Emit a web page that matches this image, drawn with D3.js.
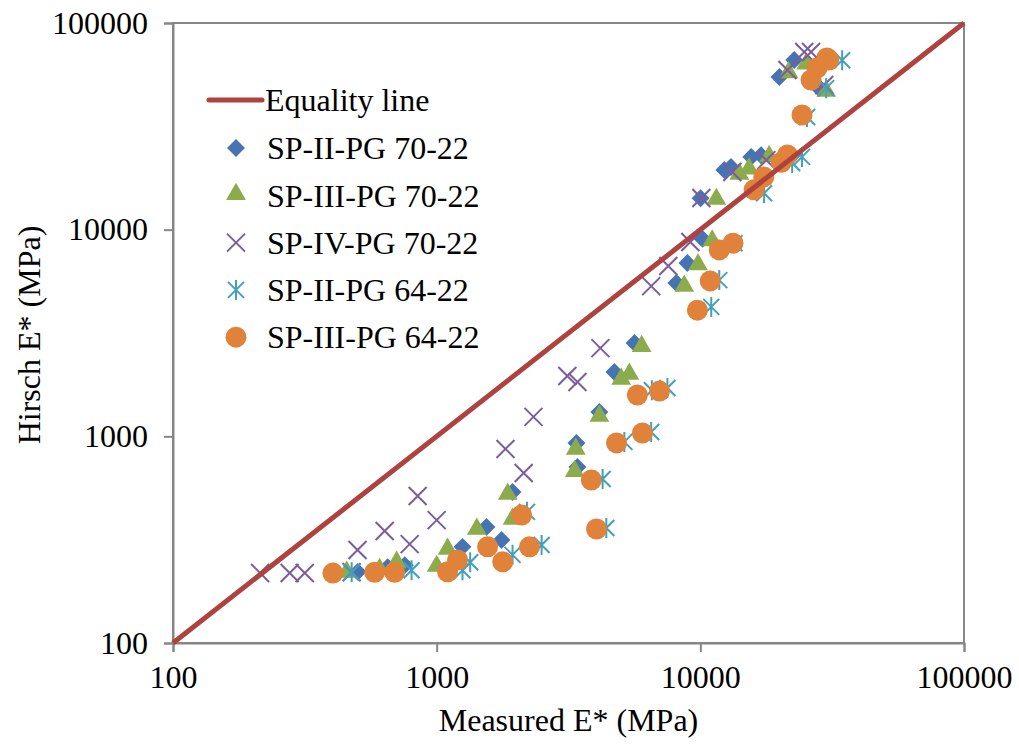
<!DOCTYPE html>
<html>
<head>
<meta charset="utf-8">
<script src="https://cdn.jsdelivr.net/npm/d3@7"></script>
<style>
  html, body { margin: 0; padding: 0; background: #fff; }
  svg { display: block; font-family: "Liberation Serif", "Times New Roman", serif; }
</style>
</head>
<body>
<svg id="chart" width="1019" height="744"></svg>
<script>
// measured E* vs Hirsch E*, both MPa
const spII70 = [
  [502, 221], [652, 233], [757, 238], [1253, 292], [1545, 364], [1762, 315],
  [1940, 538], [3390, 929], [3420, 711], [4140, 1312], [4720, 2048], [5630, 2830],
  [8110, 5520], [8930, 6900], [10200, 9020], [10020, 14200], [12330, 19450],
  [13070, 20100], [15600, 22500], [17000, 22900], [19950, 54800], [22700, 66200],
  [28200, 48400]
];
const spIII70 = [
  [456, 218], [608, 225], [705, 244], [1000, 233], [1100, 282], [1420, 352],
  [1860, 520], [1940, 394], [3370, 859], [3340, 670], [4140, 1240], [5010, 1874],
  [5380, 1980], [5990, 2700], [8690, 5280], [9800, 6700], [11090, 8750],
  [11500, 13900], [14060, 18400], [15300, 19500], [18240, 22400], [21600, 57000],
  [25200, 62700], [30000, 46400]
];
const spIV70 = [
  [214, 218], [277, 218], [316, 218], [476, 220], [501, 282], [635, 348],
  [790, 301], [847, 514], [1000, 393], [1824, 869], [2138, 665], [2329, 1242],
  [3131, 1960], [3420, 1832], [4178, 2673], [6515, 5333], [7560, 6670],
  [9165, 8710], [10090, 14220], [13220, 19000], [17800, 21700], [21400, 59200],
  [24780, 72400], [26300, 72400], [29500, 50100]
];
const spII64 = [
  [476, 220], [803, 225], [1253, 225], [1340, 246], [1940, 267], [2200, 431],
  [2500, 298], [4260, 622], [4400, 360], [5150, 940], [6510, 1050], [6550, 1670],
  [7500, 1713], [11000, 4230], [11800, 5700], [13470, 8600], [17450, 15000],
  [22300, 21000], [24300, 22500], [25400, 35100], [30000, 48400], [34500, 66000]
];
const spIII64 = [
  [404, 218], [582, 220], [693, 220], [1100, 221], [1200, 252], [1560, 292],
  [1780, 247], [2100, 416], [2250, 292], [3860, 615], [4040, 356], [4810, 929],
  [6030, 1038], [5770, 1585], [7000, 1655], [9750, 4080], [10900, 5650],
  [11800, 7980], [13300, 8600], [16000, 15600], [17400, 18000], [20300, 21200],
  [21400, 23000], [24300, 35900], [26300, 53000], [27700, 60500], [30200, 67700],
  [30700, 66200]
];
const equality = [[100, 100], [100000, 100000]];
const ticks = [100, 1000, 10000, 100000];
const seriesNames = ["SP-II-PG 70-22", "SP-III-PG 70-22", "SP-IV-PG 70-22", "SP-II-PG 64-22", "SP-III-PG 64-22"];

const svg = d3.select("#chart");
const pLeft = 173, pRight = 964, pTop = 23, pBottom = 643;

const x = d3.scaleLog().domain([100, 100000]).range([pLeft, pRight]);
const y = d3.scaleLog().domain([100, 100000]).range([pBottom, pTop]);

const gray = "#868686";
const fontSize = 32;
const serif = "'Liberation Serif', 'Times New Roman', serif";

// plot frame
svg.append("rect")
  .attr("x", pLeft).attr("y", pTop)
  .attr("width", pRight - pLeft).attr("height", pBottom - pTop)
  .attr("fill", "none").attr("stroke", gray).attr("stroke-width", 2);

// axes
svg.append("g")
  .attr("transform", `translate(0,${pBottom})`)
  .call(d3.axisBottom(x).tickValues(ticks).tickFormat(d3.format("d")).tickSize(9).tickPadding(13))
  .call(g => g.select(".domain").attr("stroke", gray).attr("stroke-width", 2))
  .call(g => g.selectAll(".tick line").attr("stroke", gray).attr("stroke-width", 2))
  .call(g => g.selectAll(".tick text").attr("fill", "#000").style("font-size", fontSize + "px")
    .style("font-family", serif));

svg.append("g")
  .attr("transform", `translate(${pLeft},0)`)
  .call(d3.axisLeft(y).tickValues(ticks).tickFormat(d3.format("d")).tickSize(9).tickPadding(16))
  .call(g => g.select(".domain").attr("stroke", gray).attr("stroke-width", 2))
  .call(g => g.selectAll(".tick line").attr("stroke", gray).attr("stroke-width", 2))
  .call(g => g.selectAll(".tick text").attr("fill", "#000").style("font-size", fontSize + "px")
    .style("font-family", serif));

svg.append("text")
  .attr("x", (pLeft + pRight) / 2).attr("y", 731)
  .attr("text-anchor", "middle")
  .style("font-size", fontSize + "px").style("font-family", serif)
  .text("Measured E* (MPa)");

svg.append("text")
  .attr("transform", `translate(40,${(pTop + pBottom) / 2 + 2}) rotate(-90)`)
  .attr("text-anchor", "middle")
  .style("font-size", fontSize + "px").style("font-family", serif)
  .text("Hirsch E* (MPa)");

// markers
const colors = ["#4674B2", "#8CAB4C", "#7A5E9C", "#3FA1BD", "#E0823A"];
const xPath = r => `M${-r},${-r}L${r},${r}M${-r},${r}L${r},${-r}`;
const starPath = r => xPath(r * 0.8) + `M0,${-r}L0,${r}`;

const drawMarker = (sel, i) => {
  if (i === 0) {
    sel.append("path").attr("d", d3.symbol(d3.symbolSquare, 160)())
      .attr("transform", "rotate(45)").attr("fill", colors[0]);
  } else if (i === 1) {
    sel.append("path").attr("d", d3.symbol(d3.symbolTriangle, 170)())
      .attr("transform", "translate(0,-1)").attr("fill", colors[1]);
  } else if (i === 2) {
    sel.append("path").attr("d", xPath(9)).attr("fill", "none")
      .attr("stroke", colors[2]).attr("stroke-width", 2);
  } else if (i === 3) {
    sel.append("path").attr("d", starPath(10)).attr("fill", "none")
      .attr("stroke", colors[3]).attr("stroke-width", 2);
  } else {
    sel.append("circle").attr("r", 10.5).attr("fill", colors[4]);
  }
};

const plotG = svg.append("g");
[spII70, spIII70, spIV70, spII64, spIII64].forEach((pts, i) => {
  plotG.append("g").selectAll("g")
    .data(pts)
    .join("g")
    .attr("transform", d => `translate(${x(d[0])},${y(d[1])})`)
    .each(function () { drawMarker(d3.select(this), i); });
});

// equality line
svg.append("path")
  .datum(equality)
  .attr("d", d3.line().x(d => x(d[0])).y(d => y(d[1])))
  .attr("stroke", "#AE423E").attr("stroke-width", 5).attr("fill", "none");

// legend
const legend = svg.append("g");
legend.append("line")
  .attr("x1", 209).attr("x2", 262).attr("y1", 100).attr("y2", 100)
  .attr("stroke", "#AE423E").attr("stroke-width", 5).attr("stroke-linecap", "round");
legend.append("text")
  .attr("x", 265).attr("y", 100).attr("dy", "0.35em")
  .style("font-size", fontSize + "px").style("font-family", serif)
  .text("Equality line");

seriesNames.forEach((name, i) => {
  const cy = 148 + i * 47.3;
  const m = legend.append("g").attr("transform", `translate(236,${cy})`);
  drawMarker(m, i);
  legend.append("text")
    .attr("x", 267).attr("y", cy).attr("dy", "0.35em")
    .style("font-size", fontSize + "px").style("font-family", serif)
    .text(name);
});
</script>
</body>
</html>
